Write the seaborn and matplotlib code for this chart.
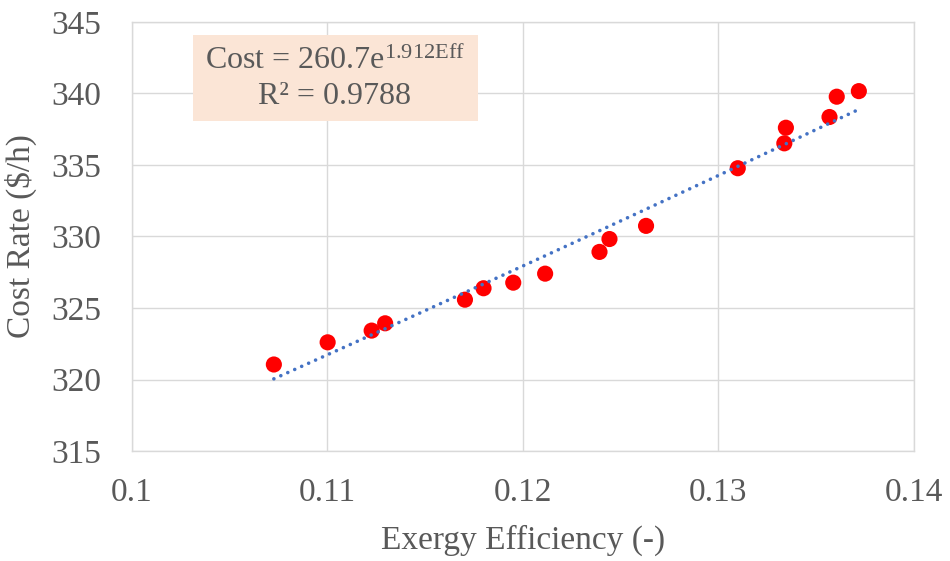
import matplotlib
matplotlib.use("Agg")
import matplotlib.pyplot as plt
from matplotlib.patches import Rectangle
import numpy as np
import pandas as pd
import seaborn as sns

# Exergy efficiency (-) and cost rate ($/h) of the evaluated cases
efficiency = [0.10727, 0.11002, 0.11227, 0.11296, 0.11704, 0.11799, 0.11951,
              0.12114, 0.12392, 0.12443, 0.12630, 0.13099, 0.13337, 0.13345,
              0.13568, 0.13605, 0.13718]
cost_rate = [321.05, 322.60, 323.42, 323.93, 325.58, 326.38, 326.77,
             327.40, 328.92, 329.82, 330.74, 334.77, 336.51, 337.60,
             338.35, 339.77, 340.16]

# Exponential fit: Cost = a * exp(b * Eff)
fit_a = 260.7
fit_b = 1.912
fit_r2 = 0.9788

x_ticks = [0.10, 0.11, 0.12, 0.13, 0.14]
x_tick_labels = ["0.1", "0.11", "0.12", "0.13", "0.14"]
y_ticks = [315, 320, 325, 330, 335, 340, 345]

sns.set_theme(style="white")
plt.rcParams["font.family"] = ["Liberation Serif", "DejaVu Serif"]
plt.rcParams["mathtext.fontset"] = "custom"
plt.rcParams["mathtext.rm"] = "Liberation Serif"
plt.rcParams["mathtext.it"] = "Liberation Serif:italic"

text_grey = "#595959"
grid_grey = "#D9D9D9"
fs = 24

df = pd.DataFrame({"eff": efficiency, "cost": cost_rate})
trend_x = np.linspace(min(efficiency), max(efficiency), 200)
trend = pd.DataFrame({"eff": trend_x, "cost": fit_a * np.exp(fit_b * trend_x)})

fig = plt.figure(figsize=(9.5, 5.61), dpi=100)
ax = fig.add_axes([0.1386, 0.196, 0.8235, 0.765])

ax.set_axisbelow(True)
ax.grid(True, color=grid_grey, linewidth=1.0)

sns.scatterplot(data=df, x="eff", y="cost", ax=ax, color="#FF0000",
                s=135, edgecolor="none", zorder=3)
sns.lineplot(data=trend, x="eff", y="cost", ax=ax, color="#4472C4",
             linewidth=2.6, zorder=4)
trend_line = ax.lines[-1]
trend_line.set_linestyle((0, (0.01, 2.1)))
trend_line.set_dash_capstyle("round")

ax.set_xlim(0.10, 0.14)
ax.set_ylim(315, 345)
ax.set_xticks(x_ticks)
ax.set_xticklabels(x_tick_labels)
ax.set_yticks(y_ticks)
ax.tick_params(axis="both", length=0, labelsize=fs, labelcolor=text_grey)
ax.tick_params(axis="x", pad=19)
ax.tick_params(axis="y", pad=22)

for side in ["left", "right", "top", "bottom"]:
    ax.spines[side].set_color(grid_grey)
    ax.spines[side].set_linewidth(1.0)

ax.set_xlabel("Exergy Efficiency (-)", fontsize=fs, color=text_grey, labelpad=12)
ax.set_ylabel("Cost Rate ($/h)", fontsize=fs, color=text_grey, labelpad=10)

# Fit annotation box
W, H = 950, 561
box = Rectangle((193 / W, 1 - 121 / H), (478 - 193) / W, (121 - 35) / H,
                transform=fig.transFigure, facecolor="#FBE5D6",
                edgecolor="none", zorder=10)
fig.patches.append(box)
fig.text(335 / W, 1 - 61 / H,
         f"Cost = {fit_a}e$^{{{fit_b}\\mathrm{{Eff}}}}$",
         ha="center", va="center", fontsize=23, color=text_grey, zorder=11)
fig.text(335 / W, 1 - 97 / H, f"R² = {fit_r2}",
         ha="center", va="center", fontsize=23, color=text_grey, zorder=11)

fig.savefig("out.png", dpi=100)
